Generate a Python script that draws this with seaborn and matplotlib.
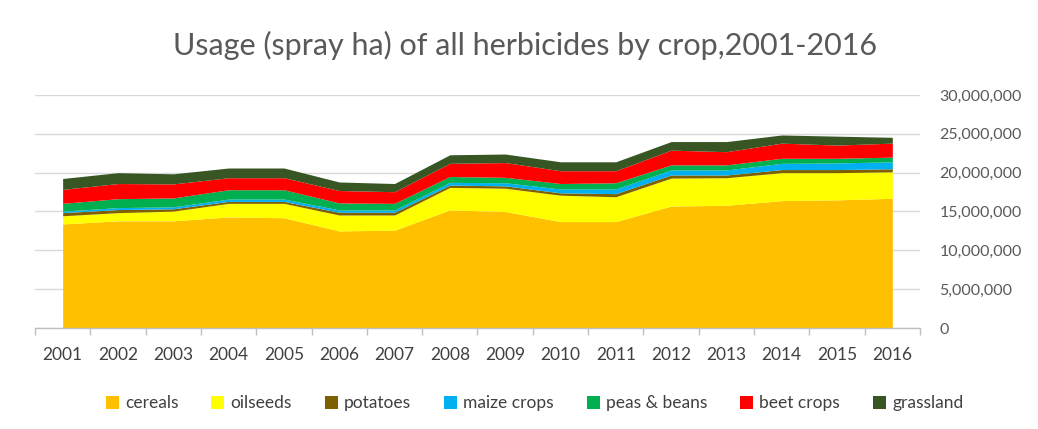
import matplotlib
matplotlib.use("Agg")
import matplotlib.pyplot as plt
from matplotlib.ticker import FuncFormatter, MultipleLocator
from matplotlib.patches import Patch
import seaborn as sns
import pandas as pd

years = list(range(2001, 2017))

cereals = [13.4e6, 13.8e6, 13.8e6, 14.3e6, 14.2e6, 12.5e6, 12.6e6, 15.2e6,
           15.0e6, 13.7e6, 13.7e6, 15.7e6, 15.8e6, 16.4e6, 16.5e6, 16.7e6]
oilseeds = [1.05e6, 1.05e6, 1.25e6, 1.75e6, 1.85e6, 2.05e6, 1.95e6, 2.9e6,
            3.0e6, 3.4e6, 3.2e6, 3.6e6, 3.55e6, 3.6e6, 3.5e6, 3.4e6]
potatoes = [0.4e6, 0.4e6, 0.3e6, 0.25e6, 0.25e6, 0.35e6, 0.35e6, 0.3e6,
            0.3e6, 0.3e6, 0.4e6, 0.4e6, 0.35e6, 0.4e6, 0.4e6, 0.4e6]
maize_crops = [0.2e6, 0.25e6, 0.25e6, 0.3e6, 0.3e6, 0.3e6, 0.3e6, 0.35e6,
               0.4e6, 0.5e6, 0.6e6, 0.65e6, 0.65e6, 0.8e6, 0.85e6, 0.9e6]
peas_beans = [1.0e6, 1.15e6, 1.15e6, 1.2e6, 1.2e6, 0.9e6, 0.85e6, 0.75e6,
              0.7e6, 0.7e6, 0.8e6, 0.65e6, 0.65e6, 0.65e6, 0.6e6, 0.6e6]
beet_crops = [1.8e6, 1.95e6, 1.8e6, 1.55e6, 1.55e6, 1.6e6, 1.5e6, 1.7e6,
              1.9e6, 1.65e6, 1.55e6, 1.9e6, 1.7e6, 1.95e6, 1.7e6, 1.8e6]
grassland = [1.4e6, 1.4e6, 1.3e6, 1.25e6, 1.25e6, 1.1e6, 1.05e6, 1.1e6,
             1.1e6, 1.15e6, 1.15e6, 1.1e6, 1.3e6, 1.05e6, 1.15e6, 0.75e6]

crops = ["cereals", "oilseeds", "potatoes", "maize crops",
         "peas & beans", "beet crops", "grassland"]
colors = ["#FFC000", "#FFFF00", "#7F6000", "#00B0F0",
          "#00B050", "#FF0000", "#375623"]

df = pd.DataFrame({
    "cereals": cereals, "oilseeds": oilseeds, "potatoes": potatoes,
    "maize crops": maize_crops, "peas & beans": peas_beans,
    "beet crops": beet_crops, "grassland": grassland,
}, index=years)

sns.set_theme(style="white")
plt.rcParams["font.family"] = ["Lato", "DejaVu Sans"]

fig = plt.figure(figsize=(10.38, 4.29), dpi=100)
ax = fig.add_axes([0.0337, 0.2354, 0.8526, 0.5432])

x = list(range(len(years)))
ax.stackplot(x, [df[c].values for c in crops], colors=colors,
             linewidth=0, zorder=2)

ax.set_xlim(-0.5, len(years) - 0.5)
ax.set_ylim(0, 30e6)
ax.yaxis.set_major_locator(MultipleLocator(5e6))
ax.yaxis.tick_right()
ax.yaxis.set_major_formatter(FuncFormatter(lambda v, p: f"{int(v):,}"))
ax.grid(axis="y", color="#d9d9d9", linewidth=1, zorder=0)
ax.grid(axis="x", visible=False)
ax.tick_params(axis="y", length=0, pad=14, labelsize=11.5, labelcolor="#595959")

ax.set_xticks(x)
ax.set_xticklabels([str(y) for y in years])
ax.set_xticks([i - 0.5 for i in range(len(years) + 1)], minor=True)
ax.tick_params(axis="x", which="major", length=0, pad=14, labelsize=12.5,
               labelcolor="#404040")
ax.tick_params(axis="x", which="minor", length=5, color="#bfbfbf", width=1,
               bottom=True)

for side in ["left", "right", "top"]:
    ax.spines[side].set_visible(False)
ax.spines["bottom"].set_color("#bfbfbf")
ax.spines["bottom"].set_linewidth(1)

fig.text(0.506, 0.895, "Usage (spray ha) of all herbicides by crop,2001-2016",
         ha="center", va="center", fontsize=22, color="#595959")

handles = [Patch(facecolor=c, edgecolor="none") for c in colors]
fig.legend(handles, crops, loc="center", bbox_to_anchor=(0.515, 0.06),
           ncol=7, frameon=False, handlelength=0.75, handleheight=0.75,
           handletextpad=0.35, columnspacing=1.9, fontsize=12.5,
           labelcolor="#404040")

fig.savefig("out.png", dpi=100, facecolor="white")
